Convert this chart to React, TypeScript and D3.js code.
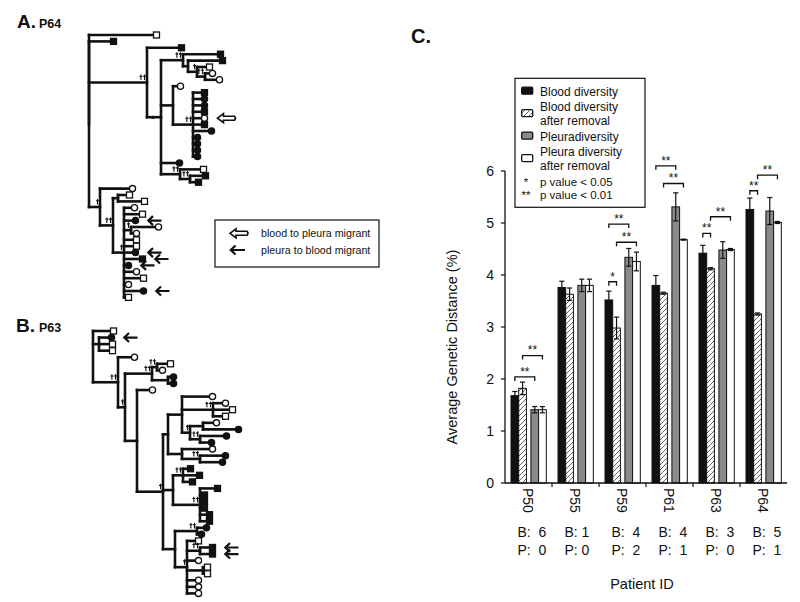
import React from 'react';
import * as d3 from 'd3';

// ---------- Bar chart data (panel C) ----------
const categories = ['P50', 'P55', 'P59', 'P61', 'P63', 'P64'];
const bloodDiversity = [1.68, 3.76, 3.52, 3.8, 4.42, 5.26];
const bloodDiversityErr = [0.08, 0.12, 0.17, 0.19, 0.15, 0.22];
const bloodRemoved = [1.82, 3.63, 2.98, 3.65, 4.12, 3.25];
const bloodRemovedErr = [0.12, 0.12, 0.21, 0.02, 0.02, 0.02];
const pleuraDiversity = [1.41, 3.8, 4.34, 5.31, 4.48, 5.23];
const pleuraDiversityErr = [0.06, 0.12, 0.17, 0.27, 0.16, 0.26];
const pleuraRemoved = [1.41, 3.8, 4.26, 4.68, 4.49, 5.01];
const pleuraRemovedErr = [0.06, 0.12, 0.18, 0.01, 0.02, 0.02];
const yTicks = [0, 1, 2, 3, 4, 5, 6];
const bloodMigrantLabels = ['B:  6', 'B: 1', 'B:  4', 'B:  4', 'B:  3', 'B:  5'];
const pleuraMigrantLabels = ['P:  0', 'P: 0', 'P:  2', 'P:  1', 'P:  0', 'P:  1'];

// significance brackets
const sigGroup = [0, 0, 2, 2, 2, 3, 3, 4, 4, 5, 5];
const sigFrom = [0, 1, 0, 0, 1, 0, 1, 0, 1, 0, 1];
const sigTo = [2, 3, 1, 2, 3, 2, 3, 1, 3, 1, 3];
const sigLevel = [2.04, 2.45, 3.87, 4.98, 4.63, 6.1, 5.76, 4.8, 5.12, 5.62, 5.92];
const sigText = ['**', '**', '*', '**', '**', '**', '**', '**', '**', '**', '**'];

const legendLabels = [
  ['Blood diversity'],
  ['Blood diversity', 'after removal'],
  ['Pleuradiversity'],
  ['Pleura diversity', 'after removal'],
];
const pLegendSymbols = ['*', '**'];
const pLegendLabels = ['p value < 0.05', 'p value < 0.01'];

// ---------- Trees (panels A, B), Newick-like ----------
// S open square, Q filled square, O open circle, C filled circle,
// h = blood-to-pleura migrant arrow, f = pleura-to-blood migrant arrow, #n = n daggers
const treeP64 =
  '(S:64,(Q:21,(Q:31,(((Q:34,(Q:31,(S:9,(O:4,O:11)#2:8)#1:9):5)#2:22,(O:4,(Q:8,C:8,C:8,Q:8,Oh:8,Q:8,C:15,C:1,C:1,C:1,C:1)#2:20):12,C:15,(S:20,(Q:12,Q:5)#2:10)#2:19):8):6)#2:58,(O:29,((S:8,S:23):5,(O:7,S:15,Cf:8,(O:24,O:2)#1:7,S:9,S:9,Cf:8,Qf:15,Cf:1,O:9,S:16,O:1,Cf:16,S:1)#1:11)#2:13)#1:11)';
const treeP63 =
  '(S:17,(Cf:9,S:10,S:10):6,(O:13,(((S:10,O:2)#2:5,(C:2,C:2):16)#2:27,(O:12,(((O:27,(O:9,S:16,S:9)#2:31,((O:10,C:32):13,(C:23,C:8)#2:10)#1:8):14,(O:27,(C:22,C:19)#2:18):14):5,((Q:4,Q:13,Q:6)#2:10,(Q:14,Q:1,Q:1,Q:1,Q:6,Q:6)#2:27):10,((C:6,C:1)#2:22,(S:8,(Qf:9,Qf:9)#2:13,O:8,(S:1,S:1):16,O:8,O:8,O:8)#1:12):12)#1:26):12)#1:7)#2:25)';

type TNode = { children: TNode[]; type: string | null; dag: number; arrow: string | null; len: number };

function parseTree(s: string): TNode {
  let i = 0;
  function node(): TNode {
    const n: TNode = { children: [], type: null, dag: 0, arrow: null, len: 0 };
    if (s[i] === '(') {
      i++;
      n.children.push(node());
      while (s[i] === ',') {
        i++;
        n.children.push(node());
      }
      i++;
    } else {
      n.type = s[i++];
      while (s[i] === 'h' || s[i] === 'f') n.arrow = s[i++];
    }
    if (s[i] === '#') {
      i++;
      n.dag = +s[i++];
    }
    if (s[i] === ':') {
      i++;
      const j = i;
      while (i < s.length && /[0-9.]/.test(s[i])) i++;
      n.len = +s.slice(j, i);
    }
    return n;
  }
  return node();
}

const FONT = "'Liberation Sans', Arial, Helvetica, sans-serif";

function daggerPath(xr: number, yb: number, count: number) {
  // daggers drawn right-aligned ending at xr, baseline at yb
  let d = '';
  for (let i = 0; i < count; i++) {
    const cx = xr - 1.5 - (count - 1 - i) * 3.6;
    d += `M${cx},${yb} V${yb - 5.5} M${cx - 1.5},${yb - 3.8} H${cx + 1.5} `;
  }
  return d;
}

function Tree({ src, x0, y0, step }: { src: string; x0: number; y0: number; step: number }) {
  const root: any = d3.hierarchy(parseTree(src), (d: TNode) => (d.children.length ? d.children : null));
  root.eachBefore((n: any) => {
    n.px = n.parent ? n.parent.px + n.data.len : x0;
  });
  root.leaves().forEach((l: any, i: number) => {
    l.py = y0 + i * step;
  });
  root.eachAfter((n: any) => {
    if (n.children) n.py = (n.children[0].py + n.children[n.children.length - 1].py) / 2;
  });
  const nodes: any[] = root.descendants();
  const els: any[] = [];
  nodes.forEach((n, k) => {
    if (n.children) {
      const a = n.children[0].py;
      const b = n.children[n.children.length - 1].py;
      els.push(<line key={'v' + k} x1={n.px} x2={n.px} y1={a} y2={b} />);
    }
    if (n.parent && n.data.len > 0) {
      els.push(<line key={'h' + k} x1={n.parent.px} x2={n.px} y1={n.py} y2={n.py} />);
    }
  });
  const marks: any[] = [];
  nodes.forEach((n, k) => {
    if (n.data.dag) {
      marks.push(<path key={'d' + k} d={daggerPath(n.px - 1, n.py - 2.5, n.data.dag)} fill="none" stroke="#111" strokeWidth={1.1} />);
    }
    if (!n.children) {
      const cx = n.px + 3.5;
      const t = n.data.type;
      if (t === 'S' || t === 'Q')
        marks.push(<rect key={'m' + k} x={cx - 3} y={n.py - 3} width={6} height={6} fill={t === 'Q' ? '#111' : '#fff'} stroke="#111" strokeWidth={1.3} />);
      else
        marks.push(<circle key={'m' + k} cx={cx} cy={n.py} r={3.1} fill={t === 'C' ? '#111' : '#fff'} stroke="#111" strokeWidth={1.3} />);
      if (n.data.arrow === 'f') {
        const ax = cx + 12;
        marks.push(
          <path key={'a' + k} d={`M${ax + 14},${n.py} H${ax + 1} M${ax + 5.5},${n.py - 4.5} L${ax + 0.8},${n.py} L${ax + 5.5},${n.py + 4.5}`} fill="none" stroke="#111" strokeWidth={2.2} />
        );
      } else if (n.data.arrow === 'h') {
        const ax = cx + 13;
        const y = n.py;
        marks.push(
          <path key={'a' + k} d={`M${ax},${y} L${ax + 6},${y - 4.5} L${ax + 6},${y - 2} L${ax + 17},${y - 2} Q${ax + 19},${y} ${ax + 17},${y + 2} L${ax + 6},${y + 2} L${ax + 6},${y + 4.5} Z`} fill="#fff" stroke="#111" strokeWidth={1.6} />
        );
      }
    }
  });
  return (
    <g>
      <g stroke="#111" strokeWidth={2.6} strokeLinecap="square">{els}</g>
      <g>{marks}</g>
    </g>
  );
}

export default function App() {
  const x = d3.scaleBand<string>().domain(categories).range([505, 787]).padding(0);
  const y = d3.scaleLinear().domain([0, 6]).range([483, 171]);
  const barW = 7.7;
  const barOffset = (i: number) => 6 + i * barW + (i >= 2 ? 4.5 : 0);
  const values = [bloodDiversity, bloodRemoved, pleuraDiversity, pleuraRemoved];
  const errs = [bloodDiversityErr, bloodRemovedErr, pleuraDiversityErr, pleuraRemovedErr];
  const fills = ['#111', 'url(#hatch)', '#8a8a8a', '#fff'];
  const barCenter = (g: number, i: number) => (x(categories[g]) as number) + barOffset(i) + barW / 2;

  // legend layout
  const legendRows: { lines: string[]; y: number }[] = [];
  let ly = 91.7;
  legendLabels.forEach((lines) => {
    legendRows.push({ lines, y: ly });
    ly += lines.length * 13.9 + 1.6;
  });

  return (
    <svg width={800} height={602} style={{ position: 'absolute', left: 0, top: 0, background: '#fff' }} fontFamily={FONT}>
      <defs>
        <pattern id="hatch" patternUnits="userSpaceOnUse" width={5} height={5}>
          <rect width={5} height={5} fill="#fff" />
          <path d="M-1,6 L6,-1 M-1,1 L1,-1 M4,6 L6,4" stroke="#222" strokeWidth={0.7} />
        </pattern>
      </defs>
      <rect width={800} height={602} fill="#fff" />

      {/* Panel labels */}
      <text x={17} y={28} fontSize={19} fontWeight="bold" fill="#111">A.</text>
      <text x={39} y={28} fontSize={12.5} fontWeight="bold" fill="#111">P64</text>
      <text x={16} y={331.5} fontSize={19} fontWeight="bold" fill="#111">B.</text>
      <text x={39} y={331.5} fontSize={12.5} fontWeight="bold" fill="#111">P63</text>
      <text x={411} y={43} fontSize={20} fontWeight="bold" fill="#111">C.</text>

      {/* Trees */}
      <Tree src={treeP64} x0={89} y0={35} step={6.4} />
      <Tree src={treeP63} x0={93} y0={331} step={6.56} />

      {/* Arrow legend */}
      <g>
        <rect x={215} y={220} width={164} height={47} fill="#fff" stroke="#111" strokeWidth={1.2} />
        <path d="M230,233.3 L236,228.8 L236,231.3 L247,231.3 Q249,233.3 247,235.3 L236,235.3 L236,237.8 Z" fill="#fff" stroke="#111" strokeWidth={1.6} />
        <path d="M245,250 H231 M235.5,245.5 L230.8,250 L235.5,254.5" fill="none" stroke="#111" strokeWidth={2.2} />
        <text x={261} y={233} dy="0.35em" fontSize={10.7} fill="#111">blood to pleura migrant</text>
        <text x={261} y={250} dy="0.35em" fontSize={10.7} fill="#111">pleura to blood migrant</text>
      </g>

      {/* Bars */}
      {values.map((vals, i) =>
        vals.map((v, g) => (
          <rect key={`b${i}-${g}`} x={(x(categories[g]) as number) + barOffset(i)} y={y(v)} width={barW} height={y(0) - y(v)} fill={fills[i]} stroke="#111" strokeWidth={1} />
        ))
      )}
      {/* Error bars */}
      {values.map((vals, i) =>
        vals.map((v, g) => {
          const cx = barCenter(g, i);
          const e = errs[i][g];
          const top = y(v + e);
          const bot = y(v - e);
          return (
            <g key={`e${i}-${g}`} stroke="#111" strokeWidth={1.2}>
              <line x1={cx} x2={cx} y1={top} y2={bot} />
              <line x1={cx - 2.6} x2={cx + 2.6} y1={top} y2={top} />
              <line x1={cx - 2.6} x2={cx + 2.6} y1={bot} y2={bot} />
            </g>
          );
        })
      )}

      {/* Significance brackets */}
      {sigGroup.map((g, k) => {
        const xa = barCenter(g, sigFrom[k]);
        const xb = barCenter(g, sigTo[k]);
        const yy = y(sigLevel[k]);
        return (
          <g key={'s' + k}>
            <path d={`M${xa},${yy + 4} V${yy} H${xb} V${yy + 4}`} fill="none" stroke="#111" strokeWidth={1.3} />
            <text x={(xa + xb) / 2} y={yy - 1.2} textAnchor="middle" fontSize={12} fill="#111">{sigText[k]}</text>
          </g>
        );
      })}

      {/* Axes */}
      <line x1={505} x2={505} y1={y(0)} y2={y(6)} stroke="#111" strokeWidth={1.3} />
      <line x1={505} x2={787} y1={y(0)} y2={y(0)} stroke="#111" strokeWidth={1.3} />
      {yTicks.map((t) => (
        <g key={'yt' + t}>
          <line x1={501} x2={505} y1={y(t)} y2={y(t)} stroke="#111" strokeWidth={1.2} />
          <text x={494} y={y(t)} dy="0.36em" textAnchor="end" fontSize={14} fill="#111">{t}</text>
        </g>
      ))}
      {categories.slice(1).map((c) => (
        <line key={'xt' + c} x1={x(c) as number} x2={x(c) as number} y1={y(0)} y2={y(0) + 4} stroke="#111" strokeWidth={1.2} />
      ))}
      {categories.map((c, g) => {
        const cx = (x(c) as number) + x.bandwidth() / 2 - 1;
        return (
          <g key={'xl' + c}>
            <text transform={`translate(${cx},488) rotate(90)`} dy="0.35em" fontSize={14} fill="#111">{c}</text>
            <text x={(x(c) as number) + 12.5} y={536.5} fontSize={14} fill="#111" style={{ whiteSpace: 'pre' }}>{bloodMigrantLabels[g]}</text>
            <text x={(x(c) as number) + 12.5} y={555} fontSize={14} fill="#111" style={{ whiteSpace: 'pre' }}>{pleuraMigrantLabels[g]}</text>
          </g>
        );
      })}
      <text x={642} y={583.5} dy="0.35em" textAnchor="middle" fontSize={14.5} fill="#111">Patient ID</text>
      <text transform="translate(452,347) rotate(-90)" dy="0.35em" textAnchor="middle" fontSize={14.5} fill="#111">Average Genetic Distance (%)</text>

      {/* Legend */}
      <rect x={515} y={78.3} width={130} height={129} fill="#fff" stroke="#111" strokeWidth={1.2} />
      {legendRows.map((r, i) => {
        const mid = r.y + ((r.lines.length - 1) * 13.9) / 2 - 1;
        return (
          <g key={'lg' + i}>
            <rect x={521.7} y={mid - 3.5} width={11} height={7} rx={1.2} fill={fills[i]} stroke="#111" strokeWidth={1.3} />
            {r.lines.map((l, j) => (
              <text key={j} x={540} y={r.y + j * 13.9} dy="0.35em" fontSize={12} fill="#111">{l}</text>
            ))}
          </g>
        );
      })}
      {pLegendLabels.map((l, i) => (
        <g key={'pl' + i}>
          <text x={526} y={182.3 + i * 12.6 + 4} textAnchor="middle" fontSize={11.5} fill="#111">{pLegendSymbols[i]}</text>
          <text x={540} y={182.3 + i * 12.6} dy="0.35em" fontSize={11.5} fill="#111">{l}</text>
        </g>
      ))}
    </svg>
  );
}
